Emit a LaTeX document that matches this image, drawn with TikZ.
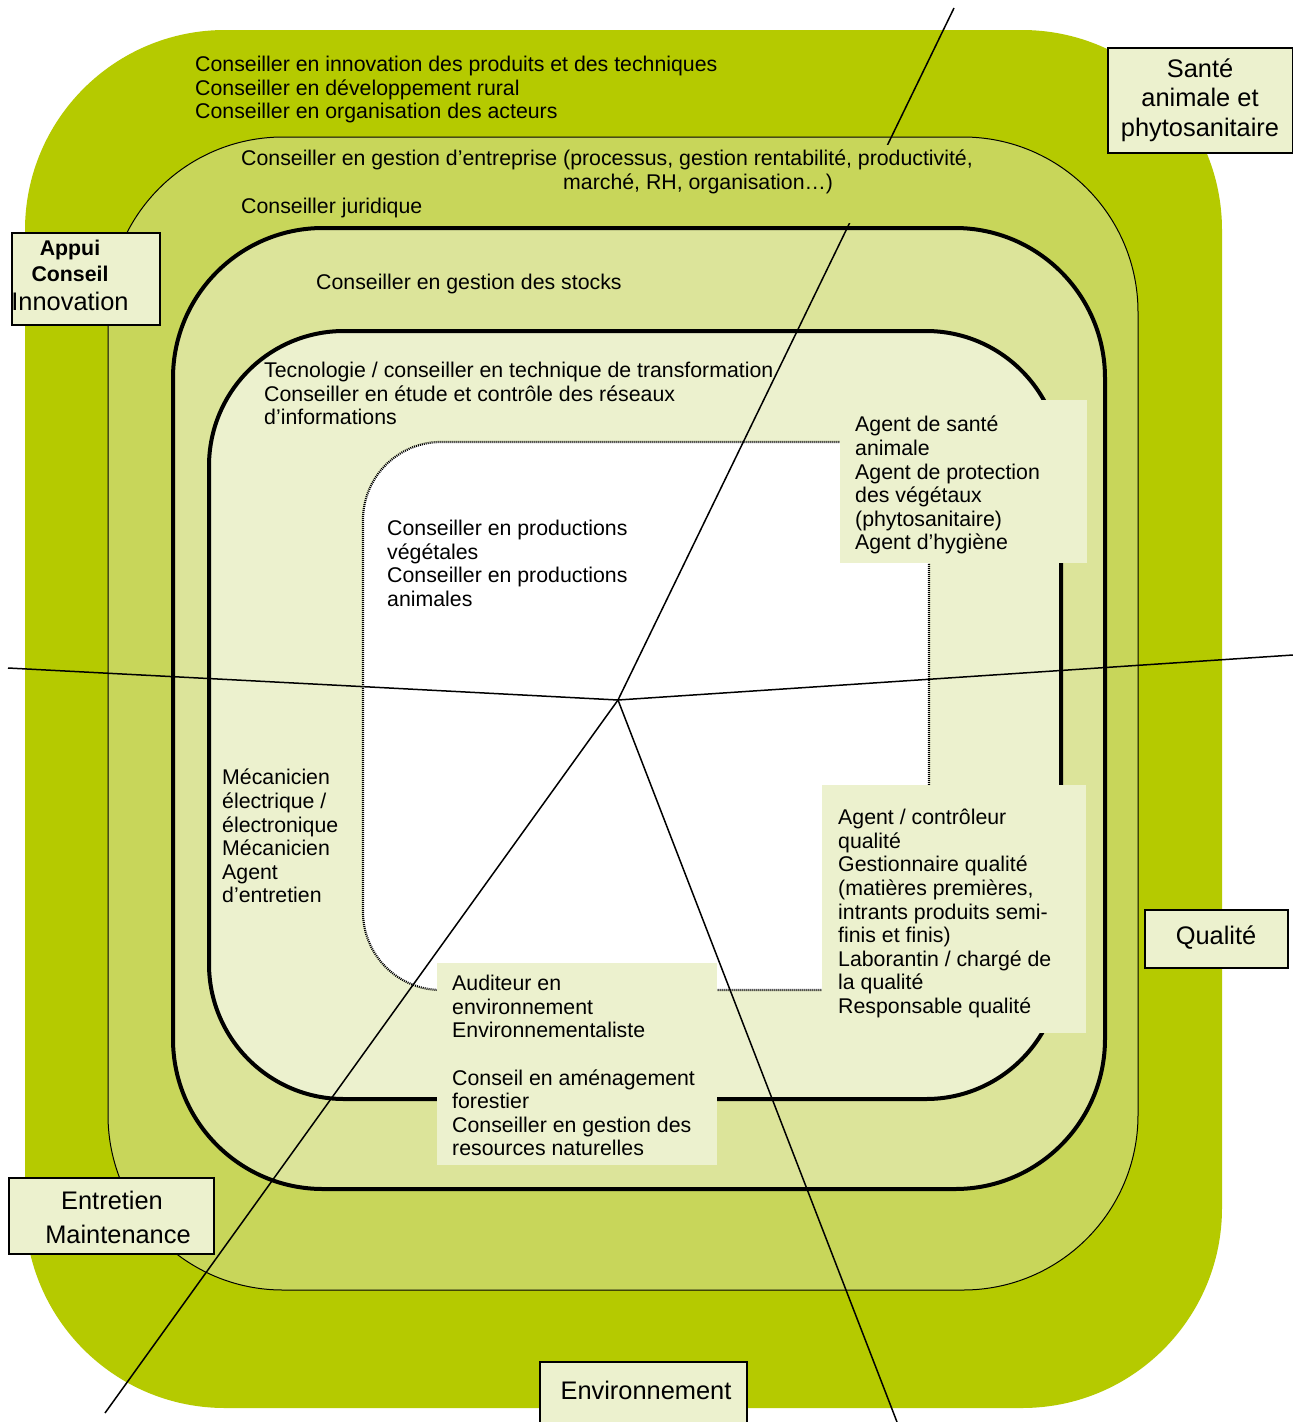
\documentclass[tikz,border=0pt]{standalone}
\usepackage{fontspec}
\setmainfont{Liberation Sans}
\definecolor{lay1}{HTML}{B5CA00}
\definecolor{lay2}{HTML}{C8D65A}
\definecolor{lay3}{HTML}{DCE49A}
\definecolor{lay4}{HTML}{ECF1CE}
\begin{document}
\begin{tikzpicture}[x=1pt,y=-1pt,
  txt/.style={font=\fontsize{21.3}{23.6}\selectfont, align=left, inner sep=0pt, anchor=north west},
  conn/.style={draw=black, line width=1.5pt},
  lbl/.style={draw=black, line width=1.5pt, fill=lay4, inner sep=0pt},
  lbltxt/.style={font=\fontsize{25.4}{29.5}\selectfont, align=center, inner sep=0pt},
  panel/.style={fill=lay4, draw=none, inner sep=0pt, anchor=north west}
]
\useasboundingbox (0,0) rectangle (1293,1422);
\fill[white] (0,0) rectangle (1293,1422);
% layers
\fill[lay1, rounded corners=200pt] (25,30) rectangle (1222,1408);
\draw[line width=1pt, fill=lay2, rounded corners=175pt] (108,137) rectangle (1138,1290);
\draw[line width=4pt, fill=lay3, rounded corners=150pt] (173,228) rectangle (1105,1189);
\draw[line width=4pt, fill=lay4, rounded corners=135pt] (209,331) rectangle (1061,1099);
\draw[line width=2.2pt, dash pattern=on 1pt off 1pt, fill=white, rounded corners=78pt] (363,442) rectangle (929,990);
% connectors
\coordinate (ctr) at (618,700);
\coordinate (e1) at (954,8);
\coordinate (e2) at (1293,655);
\coordinate (e3) at (897,1422);
\coordinate (e4) at (105,1413);
\coordinate (e5) at (8,668);
\draw[conn] (ctr) -- (e1);
\draw[conn] (ctr) -- (e2);
\draw[conn] (ctr) -- (e3);
\draw[conn] (ctr) -- (e4);
\draw[conn] (ctr) -- (e5);
% texts
\node[txt] (t1) at (195,56) {Conseiller en innovation des produits et des techniques\\Conseiller en développement rural\\Conseiller en organisation des acteurs};
\node[txt, fill=lay2, inner sep=5pt] (t2) at (236,145) {Conseiller en gestion d’entreprise (processus, gestion rentabilité, productivité,\\\hspace*{322pt}marché, RH, organisation…)\\Conseiller juridique};
\node[txt] (t3) at (316,274) {Conseiller en gestion des stocks};
\node[txt] (t4) at (264,362) {Tecnologie / conseiller en technique de transformation\\Conseiller en étude et contrôle des réseaux\\d’informations};
\node[txt] (t5) at (387,520) {Conseiller en productions\\végétales\\Conseiller en productions\\animales};
\node[panel, minimum width=247pt, minimum height=163pt] (b6) at (840,400) {};
\node[txt] (t6) at (855,416) {Agent de santé\\animale\\Agent de protection\\des végétaux\\(phytosanitaire)\\Agent d’hygiène};
\node[txt] (t7) at (222,769) {Mécanicien\\électrique /\\électronique\\Mécanicien\\Agent\\d’entretien};
\node[panel, minimum width=264pt, minimum height=248pt] (b8) at (822,785) {};
\node[txt] (t8) at (838,809) {Agent / contrôleur\\qualité\\Gestionnaire qualité\\(matières premières,\\intrants produits semi-\\finis et finis)\\Laborantin / chargé de\\la qualité\\Responsable qualité};
\node[panel, minimum width=280pt, minimum height=202pt] (b9) at (437,963) {};
\node[txt] (t9) at (452,975) {Auditeur en\\environnement\\Environnementaliste\\[23.6pt]Conseil en aménagement\\forestier\\Conseiller en gestion des\\resources naturelles};
% labels
\node[lbl, minimum width=185pt, minimum height=105pt] (sante) at (1200.5,100.5) {};
\node[lbltxt] (santet) at (1200,100) {Santé\\animale et\\phytosanitaire};
\node[lbl, minimum width=148pt, minimum height=92pt] (appui) at (86,279) {};
\node[align=center, inner sep=0pt, anchor=north, font=\fontsize{21.3}{26}\selectfont] (appuit) at (70,240) {\textbf{Appui}\\\textbf{Conseil}\\[3pt]{\fontsize{25.4}{30}\selectfont Innovation}};
\node[lbl, minimum width=143pt, minimum height=58pt] (qual) at (1216.5,939) {};
\node[lbltxt] (qualt) at (1216,938) {Qualité};
\node[lbl, minimum width=205pt, minimum height=76pt] (entr) at (111.5,1216) {};
\node[lbltxt, font=\fontsize{25.4}{34}\selectfont] (entrt) at (112,1217) {Entretien\\\hspace*{12pt}Maintenance};
\node[lbl, minimum width=207pt, minimum height=78pt] (env) at (643.5,1401) {};
\node[lbltxt] (envt) at (646,1390) {Environnement};
\end{tikzpicture}
\end{document}
